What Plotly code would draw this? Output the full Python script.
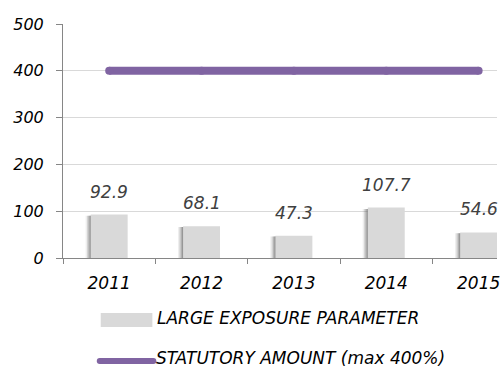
import plotly.graph_objects as go

# Chart data
years = ["2011", "2012", "2013", "2014", "2015"]
large_exposure = [92.9, 68.1, 47.3, 107.7, 54.6]
statutory_amount = [400, 400, 400, 400, 400]
series_names = ["LARGE EXPOSURE PARAMETER", "STATUTORY AMOUNT (max 400%)"]
y_ticks = [0, 100, 200, 300, 400, 500]

W, H = 500, 368
ML, MR, MT, MB = 63, 0, 24, 110
PW, PH = W - ML - MR, H - MT - MB

FONT = "DejaVu Sans"
BAR = "#d9d9d9"
PURPLE = "#8064a2"
AXIS = "#868686"


def px_x(px):
    return (px - ML) / PW


def px_y(py):
    return (H - MB - py) / PH


fig = go.Figure()

# soft shadow on the left of each bar, built from a few translucent layers
for off, alpha in [(-0.255, 0.10), (-0.24, 0.18), (-0.225, 0.28), (-0.21, 0.35)]:
    fig.add_trace(go.Bar(
        x=years, y=[v * 0.97 for v in large_exposure], width=0.4, offset=off,
        marker=dict(color=f"rgba(90,90,90,{alpha})", line=dict(width=0)),
        hoverinfo="skip", showlegend=False,
    ))
# main bars
fig.add_trace(go.Bar(
    x=years, y=large_exposure, width=0.4, offset=-0.2,
    marker=dict(color=BAR, line=dict(width=0)),
    name=series_names[0], showlegend=False,
))
# statutory line with rounded ends
fig.add_trace(go.Scatter(
    x=years, y=statutory_amount, mode="lines+markers",
    line=dict(color=PURPLE, width=8),
    marker=dict(color=PURPLE, size=8, line=dict(width=0)),
    name=series_names[1], showlegend=False,
))

# value labels above bars (category index positions)
for i, v in enumerate(large_exposure):
    fig.add_annotation(
        x=i, y=v, text=f"{v:.1f}", showarrow=False,
        yanchor="bottom", yshift=11,
        font=dict(family=FONT, size=17, color="#404040", style="italic"),
    )

# legend drawn by hand
fig.add_shape(type="rect", xref="paper", yref="paper",
              x0=px_x(101), x1=px_x(153), y0=px_y(327), y1=px_y(313),
              fillcolor=BAR, line=dict(width=0))
fig.add_shape(type="line", xref="paper", yref="paper",
              x0=px_x(100), x1=px_x(154), y0=px_y(361), y1=px_y(361),
              line=dict(color=PURPLE, width=6))
for cx in (100, 154):
    fig.add_shape(type="circle", xref="paper", yref="paper",
                  x0=px_x(cx - 3), x1=px_x(cx + 3), y0=px_y(364), y1=px_y(358),
                  fillcolor=PURPLE, line=dict(width=0))
fig.add_annotation(xref="paper", yref="paper", x=px_x(156), y=px_y(318),
                   xanchor="left", yanchor="middle", showarrow=False,
                   text=series_names[0],
                   font=dict(family=FONT, size=17, color="#000000", style="italic"))
fig.add_annotation(xref="paper", yref="paper", x=px_x(155), y=px_y(358),
                   xanchor="left", yanchor="middle", showarrow=False,
                   text=series_names[1],
                   font=dict(family=FONT, size=17, color="#000000", style="italic"))

fig.update_layout(
    width=W, height=H,
    margin=dict(l=ML, r=MR, t=MT, b=MB),
    paper_bgcolor="white", plot_bgcolor="white",
    barmode="overlay", showlegend=False,
    xaxis=dict(
        type="category", range=[-0.5, -0.5 + PW / 93.0],
        showline=True, linecolor=AXIS, linewidth=1,
        ticks="outside", tickson="boundaries", ticklen=5, tickcolor=AXIS,
        showgrid=False, ticklabelstandoff=10,
        tickfont=dict(family=FONT, size=17, color="#000000", style="italic"),
    ),
    yaxis=dict(
        range=[0, 500], tickvals=y_ticks,
        showline=True, linecolor=AXIS, linewidth=1,
        ticks="outside", ticklen=6, tickcolor=AXIS,
        showgrid=True, gridcolor="#d9d9d9", gridwidth=1, zeroline=False,
        ticklabelstandoff=9,
        tickfont=dict(family=FONT, size=16, color="#000000", style="italic"),
    ),
)

fig.write_html("out.html")
